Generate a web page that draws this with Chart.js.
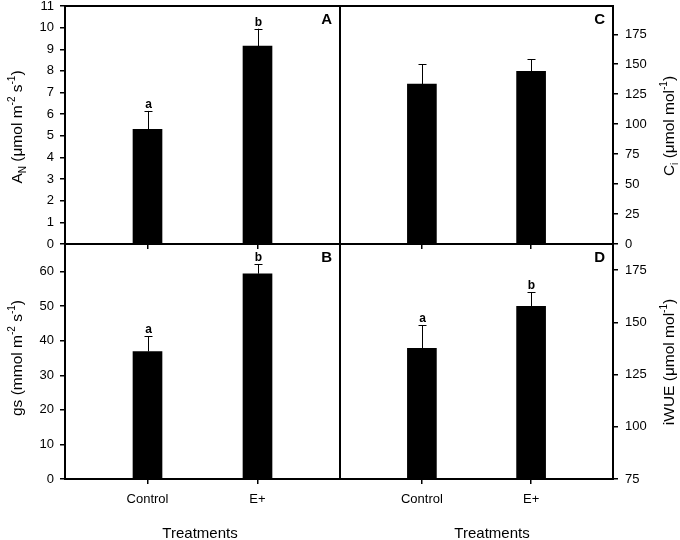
<!DOCTYPE html>
<html>
<head>
<meta charset="utf-8">
<script src="https://cdn.jsdelivr.net/npm/chart.js@4"></script>
<style>
body { margin: 0; background: #fff; }
#wrap { position: relative; width: 680px; height: 540px; font-family: Arial, "Liberation Sans", sans-serif; color: #000; }
canvas { position: absolute; left: 0; top: 0; }
.ytitle { position: absolute; white-space: nowrap; font-size: 15.5px; line-height: 15px; transform: translate(-50%, -50%) rotate(-90deg); }
.xtitle { position: absolute; white-space: nowrap; font-size: 15px; line-height: 15px; transform: translate(-50%, -50%); }
sup, sub { font-size: 10px; line-height: 0; }
</style>
</head>
<body>
<div id="wrap">
  <canvas id="panelA" width="680" height="540"></canvas>
  <canvas id="panelB" width="680" height="540"></canvas>
  <canvas id="panelC" width="680" height="540"></canvas>
  <canvas id="panelD" width="680" height="540"></canvas>

  <div class="ytitle" style="left:16px; top:127px;">A<sub>N</sub> (μmol m<sup>-2</sup> s<sup>-1</sup>)</div>
  <div class="ytitle" style="left:16px; top:358px;">gs (mmol m<sup>-2</sup> s<sup>-1</sup>)</div>
  <div class="ytitle" style="left:668px; top:126px;">C<sub>i</sub> (μmol mol<sup>-1</sup>)</div>
  <div class="ytitle" style="left:668px; top:362px;">iWUE (μmol mol<sup>-1</sup>)</div>
  <div class="xtitle" style="left:200px; top:532px;">Treatments</div>
  <div class="xtitle" style="left:492px; top:532px;">Treatments</div>
</div>

<script>
// data
const categories = ['Control', 'E+'];

const anValues = [5.3, 9.15];
const anErrors = [0.85, 0.8];
const anLetters = ['a', 'b'];

const gsValues = [36.9, 59.4];
const gsErrors = [4.4, 2.7];
const gsLetters = ['a', 'b'];

const ciValues = [133.5, 144];
const ciErrors = [16.5, 10];
const ciLetters = ['', ''];

const wueValues = [137.5, 157.7];
const wueErrors = [11.1, 6.6];
const wueLetters = ['a', 'b'];

const FONT = 'Arial, "Liberation Sans", sans-serif';
Chart.defaults.font.family = FONT;
Chart.defaults.color = '#000';

// error bars, significance letters, panel letter and frame
const panelDecor = {
    id: 'panelDecor',
    afterDatasetsDraw(chart, args, opts) {
        const ctx = chart.ctx;
        const y = chart.scales.y;
        const bars = chart.getDatasetMeta(0).data;
        ctx.save();
        ctx.strokeStyle = '#000';
        ctx.lineWidth = 1;
        bars.forEach((bar, i) => {
            const top = y.getPixelForValue(opts.values[i] + opts.errors[i]);
            const x = Math.round(bar.x) + 0.5;
            ctx.beginPath();
            ctx.moveTo(x, bar.y);
            ctx.lineTo(x, top);
            ctx.moveTo(x - 4, Math.round(top) + 0.5);
            ctx.lineTo(x + 4, Math.round(top) + 0.5);
            ctx.stroke();
            if (opts.letters[i]) {
                ctx.fillStyle = '#000';
                ctx.font = 'bold 12px ' + FONT;
                ctx.textAlign = 'center';
                ctx.textBaseline = 'alphabetic';
                ctx.fillText(opts.letters[i], x, top - 3);
            }
        });
        ctx.restore();
    },
    afterDraw(chart, args, opts) {
        const ctx = chart.ctx;
        const a = chart.chartArea;
        ctx.save();
        ctx.strokeStyle = '#000';
        ctx.lineWidth = 2;
        ctx.strokeRect(a.left, a.top, a.right - a.left, a.bottom - a.top);
        ctx.fillStyle = '#000';
        ctx.font = 'bold 15px ' + FONT;
        ctx.textAlign = 'right';
        ctx.textBaseline = 'middle';
        ctx.fillText(opts.label, a.right - 8, a.top + 14);
        ctx.restore();
    }
};

function makePanel(id, p) {
    const points = p.values.map((v, i) => ({ x: i + 1, y: v }));
    return new Chart(document.getElementById(id), {
        type: 'bar',
        data: {
            datasets: [{
                data: points,
                backgroundColor: '#000',
                borderWidth: 0,
                barThickness: 29
            }]
        },
        options: {
            responsive: false,
            animation: false,
            events: [],
            layout: { padding: p.padding },
            plugins: {
                legend: { display: false },
                tooltip: { enabled: false },
                panelDecor: { values: p.values, errors: p.errors, letters: p.letters, label: p.label }
            },
            scales: {
                x: {
                    type: 'linear',
                    min: 0.25,
                    max: 2.75,
                    offset: false,
                    afterBuildTicks: s => { s.ticks = categories.map((c, i) => ({ value: i + 1 })); },
                    ticks: {
                        callback: v => p.showX ? categories[v - 1] : '',
                        font: { size: 13 },
                        padding: 8,
                        maxRotation: 0
                    },
                    grid: { offset: false, drawOnChartArea: false, drawTicks: true, tickLength: 5, color: '#000', lineWidth: 1.5 },
                    border: { display: false },
                    afterFit: s => { s.height = p.xHeight; s.paddingLeft = 0; s.paddingRight = 0; }
                },
                y: {
                    position: p.side,
                    min: p.min,
                    max: p.max,
                    afterBuildTicks: s => {
                        s.ticks = s.ticks.filter(t => Math.abs(t.value / p.step - Math.round(t.value / p.step)) < 1e-6);
                    },
                    ticks: { stepSize: p.step, font: { size: 13 }, padding: p.side === 'left' ? 6 : 7 },
                    grid: { drawOnChartArea: false, drawTicks: true, tickLength: 5, color: '#000', lineWidth: 1.5 },
                    border: { display: false },
                    afterFit: s => {
                        s.width = p.side === 'left' ? 65 : 67;
                        s.paddingTop = 0;
                        s.paddingBottom = 0;
                    }
                }
            }
        },
        plugins: [panelDecor]
    });
}

makePanel('panelA', {
    values: anValues, errors: anErrors, letters: anLetters, label: 'A',
    side: 'left', min: 0, max: 11, step: 1, showX: false, xHeight: 20,
    padding: { left: 0, right: 340, top: 6, bottom: 276 }
});
makePanel('panelB', {
    values: gsValues, errors: gsErrors, letters: gsLetters, label: 'B',
    side: 'left', min: 0, max: 68, step: 10, showX: true, xHeight: 30,
    padding: { left: 0, right: 340, top: 244, bottom: 31 }
});
makePanel('panelC', {
    values: ciValues, errors: ciErrors, letters: ciLetters, label: 'C',
    side: 'right', min: 0, max: 198.6, step: 25, showX: false, xHeight: 20,
    padding: { left: 340, right: 0, top: 6, bottom: 276 }
});
makePanel('panelD', {
    values: wueValues, errors: wueErrors, letters: wueLetters, label: 'D',
    side: 'right', min: 75, max: 187.5, step: 25, showX: true, xHeight: 30,
    padding: { left: 340, right: 0, top: 244, bottom: 31 }
});
</script>
</body>
</html>
